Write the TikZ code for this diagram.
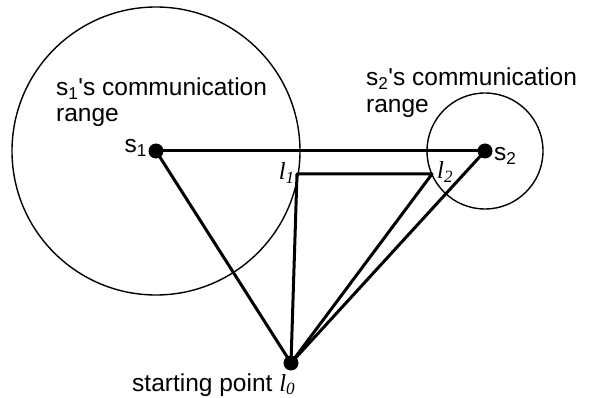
\documentclass[tikz,border=0pt]{standalone}
\usepackage{fontspec}
\setmainfont{Liberation Sans}
\newfontfamily\serifit{Liberation Serif}
\begin{document}
\begin{tikzpicture}[x=1pt,y=-1pt,
  dot/.style={circle,fill=black,inner sep=0pt,minimum size=15pt},
  thickline/.style={line width=3pt,line join=round},
  rangeline/.style={line width=1.4pt},
  lbl/.style={font=\fontsize{24.5}{27}\selectfont,inner sep=0pt},
  ital/.style={font=\serifit\itshape\fontsize{24.5}{27}\selectfont,inner sep=0pt}]
\useasboundingbox (0,0) rectangle (597,398);
\coordinate (S1) at (156,151);
\coordinate (S2) at (485,151);
\coordinate (L0) at (291,363);
\coordinate (l1) at (297,174);
\coordinate (l2) at (432,174);
% communication ranges
\draw[rangeline] (S1) circle[radius=144];
\draw[rangeline] (S2) circle[radius=58];
% connectors
\draw[thickline] (S1) -- (S2);
\draw[thickline] (S1) -- (L0);
\draw[thickline] (L0) -- (l1) -- (l2) -- (L0);
\draw[thickline] (L0) -- (S2);
% points
\node[dot] (s1) at (S1) {};
\node[dot] (s2) at (S2) {};
\node[dot] (l0) at (L0) {};
% labels
\node[lbl,anchor=base west] (r1a) at (56,96) {s\textsubscript{1}\textquotesingle s communication};
\node[lbl,anchor=base west] (r1b) at (56,122) {range};
\node[lbl,anchor=base west] (r2a) at (366,86) {s\textsubscript{2}\textquotesingle s communication};
\node[lbl,anchor=base west] (r2b) at (366,113) {range};
\node[lbl,anchor=base east] (s1lbl) at (147,153) {s\textsubscript{1}};
\node[lbl,anchor=base west] (s2lbl) at (494,161) {s\textsubscript{2}};
\node[ital,anchor=base east] (l1lbl) at (295,180) {l\textsubscript{1}};
\node[ital,anchor=base west] (l2lbl) at (437,179) {l\textsubscript{2}};
\node[lbl,anchor=base west] (start) at (132,391) {starting point {\serifit\itshape l\textsubscript{0}}};
\end{tikzpicture}
\end{document}
